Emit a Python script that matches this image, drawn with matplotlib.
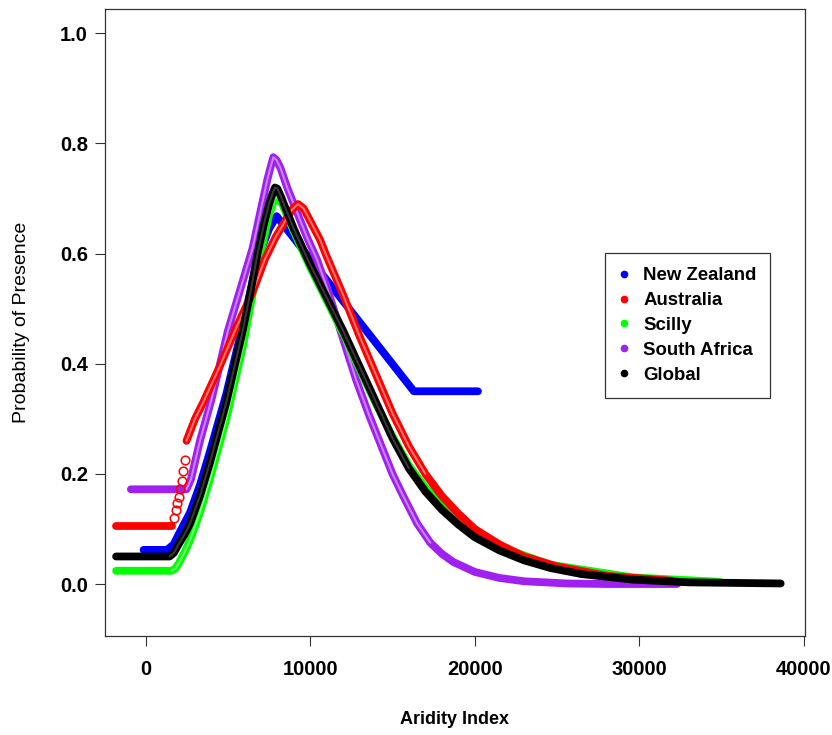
import matplotlib
matplotlib.use("Agg")
import matplotlib.pyplot as plt
from matplotlib.lines import Line2D
from matplotlib.colors import to_rgb

plt.rcParams['font.family'] = ['Liberation Sans', 'DejaVu Sans']

# Response curves: probability of presence along the aridity gradient
nz_x = [-130, 1300, 1700, 2000, 2700, 3300, 3900, 4900, 5900, 6800, 7500, 7960, 12100, 16300, 20200]
nz_y = [0.062, 0.062, 0.072, 0.09, 0.13, 0.18, 0.24, 0.345, 0.47, 0.59, 0.645, 0.668, 0.51, 0.35, 0.35]

au_x = [-1800, 1570, 1720, 1840, 1920, 2020, 2090, 2190, 2290, 2390, 2480, 3000, 3500, 4500,
        5500, 6500, 7250, 7900, 8500, 8900, 9260, 9600, 9900, 10600, 11000, 12000, 13000,
        14000, 15000, 16000, 17000, 18000, 19000, 20000, 21500, 23000, 25000, 28000, 32000]
au_y = [0.105, 0.105, 0.12, 0.134, 0.147, 0.158, 0.172, 0.187, 0.205, 0.225, 0.26, 0.3, 0.33, 0.395,
        0.465, 0.53, 0.59, 0.63, 0.66, 0.68, 0.69, 0.682, 0.665, 0.625, 0.595, 0.525, 0.45,
        0.38, 0.31, 0.25, 0.2, 0.16, 0.128, 0.1, 0.072, 0.05, 0.032, 0.015, 0.006]

sc_x = [-1800, 1570, 1800, 2000, 2400, 2700, 3300, 3900, 4900, 5900, 6800, 7500, 7900, 8300,
        9000, 10000, 11000, 12000, 13000, 14000, 15000, 16000, 17000, 19000, 21500, 24600,
        29600, 34900]
sc_y = [0.024, 0.024, 0.028, 0.037, 0.06, 0.08, 0.13, 0.19, 0.3, 0.43, 0.575, 0.67, 0.705, 0.69,
        0.64, 0.575, 0.515, 0.455, 0.39, 0.327, 0.268, 0.215, 0.175, 0.118, 0.068, 0.035,
        0.012, 0.004]

sa_x = [-900, 2480, 2750, 3300, 4000, 5000, 6000, 6500, 7000, 7400, 7600, 7760, 7950, 8200,
        8600, 9200, 9800, 10400, 11000, 12000, 12800, 13600, 14400, 15000, 15650, 16500,
        17300, 18000, 18700, 20000, 21500, 23000, 25600, 28000, 32300]
sa_y = [0.172, 0.172, 0.19, 0.26, 0.335, 0.46, 0.56, 0.61, 0.68, 0.735, 0.758, 0.775, 0.77, 0.755,
        0.72, 0.675, 0.63, 0.59, 0.54, 0.445, 0.37, 0.305, 0.245, 0.2, 0.16, 0.11,
        0.075, 0.055, 0.04, 0.022, 0.011, 0.005, 0.001, 0.0, 0.0]

gl_x = [-1800, 1450, 1700, 2000, 2400, 2700, 3000, 3300, 3900, 4400, 4900, 5400, 5900, 6400,
        6800, 7200, 7500, 7700, 7860, 8000, 8200, 8600, 9000, 10000, 11000, 12000, 13000,
        14000, 15000, 16000, 17000, 18000, 19000, 20000, 21500, 23000, 24600, 26500, 29600,
        33000, 38600]
gl_y = [0.05, 0.05, 0.056, 0.072, 0.092, 0.11, 0.135, 0.16, 0.22, 0.275, 0.33, 0.395, 0.46, 0.535,
        0.6, 0.655, 0.69, 0.708, 0.72, 0.718, 0.705, 0.675, 0.645, 0.58, 0.52, 0.46, 0.395,
        0.33, 0.265, 0.21, 0.168, 0.135, 0.108, 0.085, 0.061, 0.043, 0.029, 0.018, 0.008,
        0.003, 0.001]

# name, x, y, colour, (start, stop) index range drawn with a hollow core
series = [
    ("New Zealand", nz_x, nz_y, "#0000FF", None),
    ("South Africa", sa_x, sa_y, "#A020F0", (1, 27)),
    ("Scilly", sc_x, sc_y, "#00FF00", (1, 21)),
    ("Australia", au_x, au_y, "#FF0000", (10, 31)),
    ("Global", gl_x, gl_y, "#000000", (1, 30)),
]
legend_order = ["New Zealand", "Australia", "Scilly", "South Africa", "Global"]

# sparse stretch of the Australia curve drawn as separate circles
au_sparse = (1, 11)

x_ticks = [0, 10000, 20000, 30000, 40000]
y_ticks = [0.0, 0.2, 0.4, 0.6, 0.8, 1.0]


def lighten(c, f):
    r, g, b = to_rgb(c)
    return (r + (1 - r) * f, g + (1 - g) * f, b + (1 - b) * f)


W, H = 832, 735
fig = plt.figure(figsize=(W / 100, H / 100), dpi=100)
ax = fig.add_axes([105 / W, 1 - 636 / H, 700 / W, (636 - 9.3) / H])

TUBE = 5.6
for i, (name, xs, ys, col, core) in enumerate(series):
    z = 2 + i
    kw = dict(color=col, lw=TUBE, solid_capstyle='round', solid_joinstyle='round', zorder=z)
    if name == "Australia":
        a, b = au_sparse
        ax.plot(xs[:a + 1], ys[:a + 1], **kw)
        ax.plot(xs[b - 1:], ys[b - 1:], **kw)
        ax.plot(xs[a + 1:b - 1], ys[a + 1:b - 1], ls='none', marker='o', ms=6.2,
                mfc='none', mec=col, mew=1.1, zorder=z)
    else:
        ax.plot(xs, ys, **kw)
    if core is not None:
        a, b = core
        inner = lighten(col, 0.22) if col == "#000000" else lighten(col, 0.45)
        ax.plot(xs[a:b], ys[a:b], color=inner, lw=1.5, solid_capstyle='round',
                solid_joinstyle='round', zorder=z + 0.1)

ax.set_xlim(-2474, 40079)
ax.set_ylim(-0.0944, 1.0436)
ax.set_xticks(x_ticks)
ax.set_xticklabels([str(t) for t in x_ticks])
ax.set_yticks(y_ticks)
ax.set_yticklabels([f"{t:.1f}" for t in y_ticks])
for s in ax.spines.values():
    s.set_linewidth(0.9)
    s.set_color('#333333')
ax.tick_params(direction='out', length=7.2, width=0.8, colors='#333333',
               labelcolor='black', labelsize=14.5)
ax.tick_params(axis='x', pad=10)
ax.tick_params(axis='y', pad=5)
for lab in ax.get_xticklabels() + ax.get_yticklabels():
    lab.set_fontweight('bold')

ax.set_xlabel("Aridity Index", fontsize=13, fontweight='bold', va='center')
ax.xaxis.set_label_coords(0.5, (636 - 720) / 626.7)
ax.set_ylabel("Probability of Presence", fontsize=14, va='center')
ax.yaxis.set_label_coords((22 - 105) / 700, 0.5)

colors = {s[0]: s[3] for s in series}
handles = [Line2D([], [], ls='none', marker='o', markersize=4.5,
                  color=colors[n]) for n in legend_order]
leg = ax.legend(handles, legend_order, loc='upper left',
                bbox_to_anchor=(605 / W, 1 - 253.3 / H), bbox_transform=fig.transFigure,
                prop={'size': 13.4, 'weight': 'bold'}, frameon=True, fancybox=False,
                borderpad=0.75, labelspacing=0.42, handlelength=0.5,
                handletextpad=0.8, borderaxespad=0)
leg.get_frame().set_edgecolor('black')
leg.get_frame().set_linewidth(0.9)

fig.savefig("out.png", dpi=100)
